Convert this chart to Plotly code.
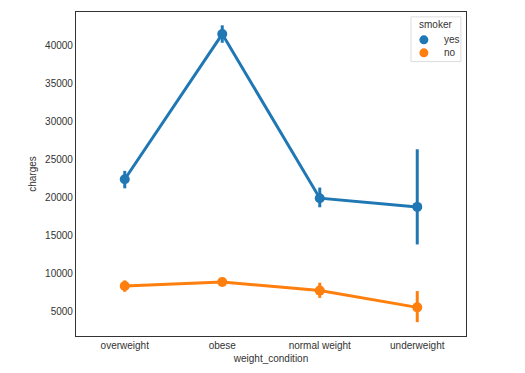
import plotly.graph_objects as go

categories = ["overweight", "obese", "normal weight", "underweight"]
yes_mean = [22400, 41550, 19900, 18750]
yes_hi = [23500, 42700, 21300, 26350]
yes_lo = [21200, 40400, 18700, 13800]
no_mean = [8320, 8850, 7710, 5500]
no_hi = [9060, 9150, 8750, 7650]
no_lo = [7550, 8550, 6750, 3550]
legend_title = "smoker"
series_names = ["yes", "no"]

BLUE = "#1f77b4"
ORANGE = "#ff7f0e"
FONT = "Liberation Sans, Arial, sans-serif"
TXT = "#333333"

fig = go.Figure()
for name, mean, hi, lo, col in [(series_names[0], yes_mean, yes_hi, yes_lo, BLUE),
                                (series_names[1], no_mean, no_hi, no_lo, ORANGE)]:
    fig.add_trace(go.Scatter(
        x=categories, y=mean, mode="lines+markers", name=name,
        line=dict(color=col, width=3),
        marker=dict(color=col, size=10),
        error_y=dict(type="data", symmetric=False,
                     array=[h - m for h, m in zip(hi, mean)],
                     arrayminus=[m - l for m, l in zip(mean, lo)],
                     color=col, thickness=3, width=0),
        showlegend=False,
    ))

axis_common = dict(showline=True, linecolor="#333333", linewidth=1.2, mirror=True,
                   showgrid=False, zeroline=False, ticks="",
                   tickfont=dict(family=FONT, size=10, color=TXT),
                   title_font=dict(family=FONT, size=10, color=TXT))

fig.update_xaxes(range=[-0.5, 3.5], title_text="weight_condition",
                 title_standoff=4, **axis_common)
fig.update_yaxes(range=[1723, 44457], title_text="charges",
                 tickvals=[5000, 10000, 15000, 20000, 25000, 30000, 35000, 40000],
                 ticktext=["5000", "10000", "15000", "20000", "25000", "30000", "35000", "40000"],
                 title_standoff=6, **axis_common)

# manual legend (compact, like matplotlib)
shapes = [dict(type="rect", xref="paper", yref="paper", x0=0.859, x1=0.987,
               y0=0.847, y1=0.985, line=dict(color="#dddddd", width=1),
               fillcolor="white", layer="above")]
annots = [dict(text=legend_title, xref="paper", yref="paper", x=0.923, y=0.960,
               showarrow=False, xanchor="center", yanchor="middle",
               font=dict(family=FONT, size=10, color=TXT))]
for name, col, yy in [(series_names[0], BLUE, 0.914), (series_names[1], ORANGE, 0.874)]:
    shapes.append(dict(type="circle", xref="paper", yref="paper",
                       xsizemode="pixel", ysizemode="pixel",
                       xanchor=0.892, yanchor=yy, x0=-4.5, x1=4.5, y0=-4.5, y1=4.5,
                       fillcolor=col, line=dict(color=col, width=0), layer="above"))
    annots.append(dict(text=name, xref="paper", yref="paper", x=0.938, y=yy,
                       showarrow=False, xanchor="left", yanchor="middle",
                       font=dict(family=FONT, size=10, color=TXT)))

fig.update_layout(
    width=509, height=357,
    margin=dict(l=68, r=51, t=3, b=28),
    paper_bgcolor="white", plot_bgcolor="white",
    font=dict(family=FONT, size=10, color=TXT),
    showlegend=False,
    shapes=shapes, annotations=annots,
)

fig.write_html("out.html")
